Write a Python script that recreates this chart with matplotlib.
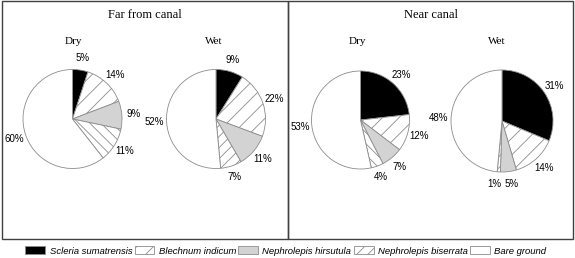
import matplotlib
matplotlib.use('Agg')
import matplotlib.pyplot as plt
from matplotlib.patches import Rectangle

matplotlib.rcParams['hatch.linewidth'] = 0.6

species = ['Scleria sumatrensis', 'Blechnum indicum', 'Nephrolepis hirsutula',
           'Nephrolepis biserrata', 'Bare ground']
far_dry = [5, 14, 9, 11, 60]
far_wet = [9, 22, 11, 7, 52]
near_dry = [23, 12, 7, 4, 53]
near_wet = [31, 14, 5, 1, 48]

colors = ['black', 'white', '#d3d3d3', 'white', 'white']
hatches = [None, '//', None, '///', None]

H = 258  # figure height in px, used to flip y so positions read top-down

fig = plt.figure(figsize=(5.75, 2.58), dpi=100)
ax = fig.add_axes([0, 0, 1, 1])

# (values, centre x, centre y, radius, hatch of biserrata slice)
pies = [
    (far_dry, 72.5, 119, 49.5, '\\\\\\'),
    (far_wet, 216, 119, 49.5, '///'),
    (near_dry, 360.5, 120, 49, '\\\\\\'),
    (near_wet, 502, 121, 51, '///'),
]

legend_wedges = None
all_texts = []
for vals, cx, cy, r, bis in pies:
    wedges, texts = ax.pie(vals, labels=[f'{v}%' for v in vals], colors=colors,
                           startangle=90, counterclock=False,
                           center=(cx, H - cy), radius=r, labeldistance=1.24,
                           wedgeprops=dict(edgecolor='#8c8c8c', linewidth=0.6),
                           textprops=dict(fontsize=7, family='Liberation Sans'))
    for w, h in zip(wedges, hatches):
        w.set_hatch(h)
    wedges[3].set_hatch(bis)
    for t in texts:
        t.set_ha('center')
        t.set_va('center')
    all_texts.append(texts)
    if bis == '///' and legend_wedges is None:
        legend_wedges = wedges

# the 1% and 5% labels of the last pie sit side by side: nudge them apart
x, y = all_texts[3][3].get_position()
all_texts[3][3].set_position((x - 4, y))
x, y = all_texts[3][2].get_position()
all_texts[3][2].set_position((x + 2, y))

# panel titles
ax.text(145, H - 15, 'Far from canal', family='Liberation Serif', size=9, ha='center', va='center')
ax.text(431, H - 15, 'Near canal', family='Liberation Serif', size=9, ha='center', va='center')
for x, lab in [(73, 'Dry'), (214, 'Wet'), (357, 'Dry'), (497, 'Wet')]:
    ax.text(x, H - 41, lab, family='Liberation Serif', size=8, ha='center', va='center')

# panel boxes
ax.add_patch(Rectangle((2, H - 239), 286, 238, fill=False, edgecolor='#404040', lw=1))
ax.add_patch(Rectangle((288, H - 239), 285, 238, fill=False, edgecolor='#404040', lw=1))

ax.set_xlim(0, 575)
ax.set_ylim(0, H)
ax.set_aspect('auto')
ax.axis('off')

fig.legend(legend_wedges, species, loc='center', bbox_to_anchor=(0.497, 1 - 251 / H),
           ncol=5, frameon=False,
           prop=dict(family='Liberation Sans', style='italic', size=6.8),
           handlelength=2.1, handleheight=0.85, handletextpad=0.45,
           columnspacing=0.25, borderpad=0)

plt.savefig('out.png', dpi=100)
